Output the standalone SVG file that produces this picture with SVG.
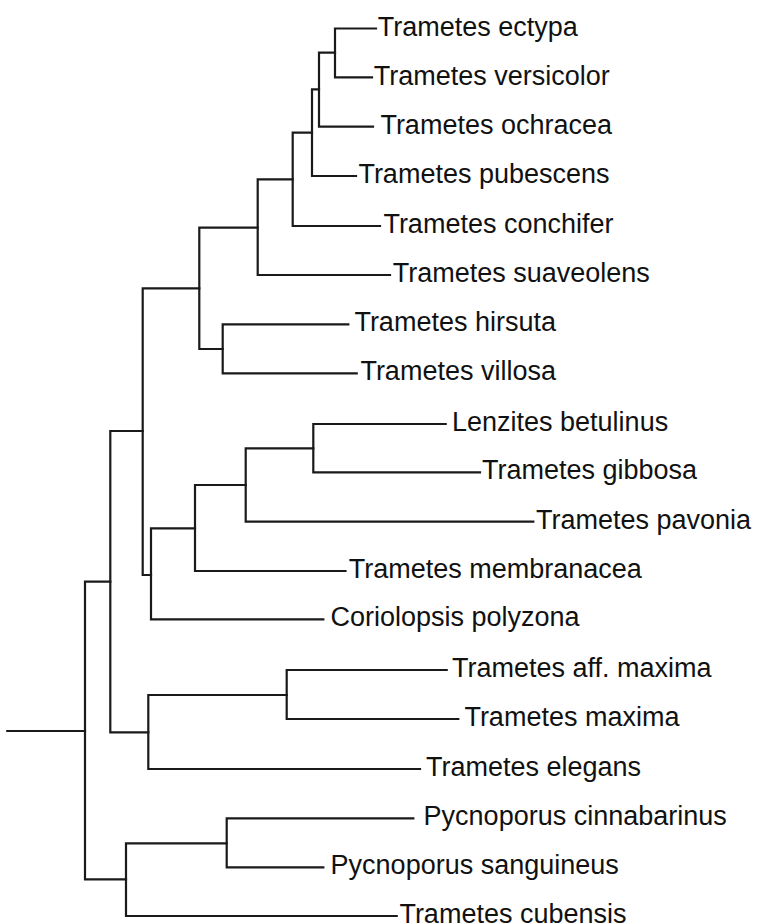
<svg xmlns="http://www.w3.org/2000/svg" width="757" height="924" viewBox="0 0 757 924">
<style>
.c{fill:none;stroke:#1a1a1a;stroke-width:2.2;stroke-linecap:square;stroke-linejoin:miter}
.t{font-family:"Liberation Sans",Arial,sans-serif;font-size:27px;fill:#111}
</style>
<rect width="757" height="924" fill="#fff"/>
<g id="connectors">
<path class="c" d="M376,28.5 H335 V77.3 H372"/>
<path class="c" d="M335,52.7 H319 V126.7 H373"/>
<path class="c" d="M319,89.3 H312 V176 H356"/>
<path class="c" d="M312,132.7 H292.7 V226 H380"/>
<path class="c" d="M292.7,179.3 H257.7 V275 H390"/>
<path class="c" d="M348.3,324.3 H222.7 V373.3 H356.7"/>
<path class="c" d="M257.7,227.7 H199.3 V349 H222.7"/>
<path class="c" d="M445.7,424 H313.3 V472.3 H480"/>
<path class="c" d="M313.3,448.3 H245.7 V521.7 H533.3"/>
<path class="c" d="M245.7,485 H195 V571 H345.5"/>
<path class="c" d="M195,528.3 H151 V619.3 H323.3"/>
<path class="c" d="M199.3,288.3 H142.7 V575 H151"/>
<path class="c" d="M446.7,670 H286.7 V719 H458.3"/>
<path class="c" d="M286.7,695 H148.3 V769 H420"/>
<path class="c" d="M142.7,431 H110.3 V732.3 H148.3"/>
<path class="c" d="M413.3,818.3 H226.7 V867.3 H323.3"/>
<path class="c" d="M226.7,843.3 H126 V916 H396.7"/>
<path class="c" d="M110.3,581.7 H85 V879.3 H126"/>
<path class="c" d="M7.3,731 H85"/>
</g>
<g id="leaf-ectypa"><text class="t" x="377.7" y="35.5">Trametes ectypa</text></g>
<g id="leaf-versicolor"><text class="t" x="373.7" y="84.5">Trametes versicolor</text></g>
<g id="leaf-ochracea"><text class="t" x="380.4" y="133.7">Trametes ochracea</text></g>
<g id="leaf-pubescens"><text class="t" x="358.4" y="183">Trametes pubescens</text></g>
<g id="leaf-conchifer"><text class="t" x="383.4" y="233">Trametes conchifer</text></g>
<g id="leaf-suaveolens"><text class="t" x="392.7" y="282">Trametes suaveolens</text></g>
<g id="leaf-hirsuta"><text class="t" x="354.4" y="331.3">Trametes hirsuta</text></g>
<g id="leaf-villosa"><text class="t" x="360.4" y="380.3">Trametes villosa</text></g>
<g id="leaf-lenzites"><text class="t" x="452" y="431">Lenzites betulinus</text></g>
<g id="leaf-gibbosa"><text class="t" x="482" y="479.3">Trametes gibbosa</text></g>
<g id="leaf-pavonia"><text class="t" x="536" y="528.7">Trametes pavonia</text></g>
<g id="leaf-membranacea"><text class="t" x="348.7" y="578">Trametes membranacea</text></g>
<g id="leaf-coriolopsis"><text class="t" x="330.4" y="626.3">Coriolopsis polyzona</text></g>
<g id="leaf-affmaxima"><text class="t" x="452" y="677">Trametes aff. maxima</text></g>
<g id="leaf-maxima"><text class="t" x="464.4" y="726">Trametes maxima</text></g>
<g id="leaf-elegans"><text class="t" x="426" y="776">Trametes elegans</text></g>
<g id="leaf-cinnabarinus"><text class="t" x="423.6" y="825.3">Pycnoporus cinnabarinus</text></g>
<g id="leaf-sanguineus"><text class="t" x="330.6" y="874.3">Pycnoporus sanguineus</text></g>
<g id="leaf-cubensis"><text class="t" x="399.4" y="923">Trametes cubensis</text></g>
</svg>
